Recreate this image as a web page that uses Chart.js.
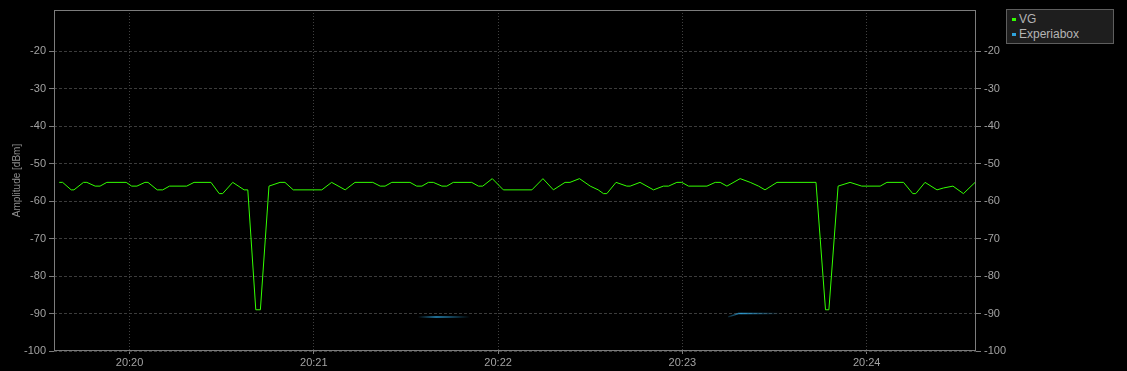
<!DOCTYPE html>
<html>
<head>
<meta charset="utf-8">
<script src="https://cdn.jsdelivr.net/npm/chart.js@4/dist/chart.umd.min.js"></script>
<style>
  html, body { margin: 0; padding: 0; background: #000; }
  #wrap { position: relative; width: 1127px; height: 371px; background: #000; }
  #c { position: absolute; left: 0; top: 0; }
  #legend { position: absolute; left: 1006px; top: 9px; width: 106px; height: 33px;
    background: #1e1e1e; border: 1px solid #5e5e5e;
    font: 12px "Liberation Sans", Arial, sans-serif; color: #b4b4b4; }
  .item { position: absolute; left: 12px; line-height: 14px; }
  .mk { position: absolute; left: -7px; top: 6px; width: 4px; height: 3px; }
</style>
</head>
<body>
<div id="wrap">
  <canvas id="c" width="1127" height="371"></canvas>
  <div id="legend">
    <div class="item" style="top:2px"><span class="mk" style="background:#33ff00"></span>VG</div>
    <div class="item" style="top:17px"><span class="mk" style="background:#2fa3dc"></span>Experiabox</div>
  </div>
</div>
<script>
// ---- data (time in seconds after 20:19:00) ----
const xMin = 35.4;
const xMax = 335.6;
const xTickValues = [60, 120, 180, 240, 300];
const xTickLabels = ['20:20', '20:21', '20:22', '20:23', '20:24'];
const yTickValues = [-20, -30, -40, -50, -60, -70, -80, -90, -100];
const yMin = -100;
const yMax = -9;
const seriesNames = ['VG', 'Experiabox'];

const vgTimes = [37.1, 38.2, 41.0, 41.9, 45.0, 46.1, 48.8, 50.4, 52.6, 58.9,
  60.7, 62.4, 65.0, 66.0, 69.0, 70.8, 73.0, 78.6, 81.0, 86.5,
  89.2, 90.3, 93.6, 97.3, 98.5, 101.1, 102.6, 105.4, 109.0, 110.6,
  113.3, 122.6, 125.8, 130.2, 133.4, 139.2, 141.6, 143.2, 145.4, 151.3,
  153.5, 155.2, 157.3, 158.9, 161.7, 163.3, 165.4, 171.4, 173.6, 175.0,
  178.1, 181.7, 191.0, 194.6, 198.0, 201.8, 203.4, 206.5, 210.0, 212.6,
  214.3, 215.4, 218.4, 221.9, 223.0, 226.2, 230.6, 233.8, 235.5, 238.2,
  239.8, 242.0, 248.0, 250.7, 252.3, 254.5, 258.8, 262.1, 264.8, 266.9,
  270.8, 283.5, 286.6, 287.7, 290.7, 294.6, 298.4, 304.4, 306.6, 312.0,
  315.0, 316.0, 319.0, 322.9, 325.0, 328.1, 331.5, 335.3];
const vgValues = [-55, -55, -57, -57, -55, -55, -56, -56, -55, -55,
  -56, -56, -55, -55, -57, -57, -56, -56, -55, -55,
  -58, -58, -55, -57, -57, -89, -89, -56, -55, -55,
  -57, -57, -55, -57, -55, -55, -56, -56, -55, -55,
  -56, -56, -55, -55, -56, -56, -55, -55, -56, -56,
  -54, -57, -57, -54, -57, -55, -55, -54, -56, -57,
  -58, -58, -55, -56, -56, -55, -57, -56, -56, -55,
  -55, -56, -56, -55, -55, -56, -54, -55, -56, -57,
  -55, -55, -89, -89, -56, -55, -56, -56, -55, -55,
  -58, -58, -55, -57, -56.5, -56, -58, -55];

const expTimes1 = [153.9, 170.9];
const expValues1 = [-90.9, -90.9];
const expTimes2 = [254.9, 257.2, 258.2, 271.9];
const expValues2 = [-90.9, -90.3, -90.0, -90.0];

// ---- build ----
function pts(ts, vs) { return ts.map((t, i) => ({ x: t, y: vs[i] })); }

function fadeColor(t0, t1, stops) {
  return function (ctx) {
    const chart = ctx.chart;
    if (!chart.chartArea) return 'rgba(47,163,220,0.6)';
    const xs = chart.scales.x;
    const g = chart.ctx.createLinearGradient(xs.getPixelForValue(t0), 0, xs.getPixelForValue(t1), 0);
    stops.forEach(s => g.addColorStop(s[0], s[1]));
    return g;
  };
}

const framePlugin = {
  id: 'frame',
  afterDraw(chart) {
    const { ctx, chartArea: a } = chart;
    ctx.save();
    ctx.strokeStyle = '#7c7c7c';
    ctx.lineWidth = 1;
    ctx.strokeRect(Math.round(a.left) + 0.5, Math.round(a.top) + 0.5,
      Math.round(a.right - a.left) - 1, Math.round(a.bottom - a.top) - 1);
    ctx.restore();
  }
};

const tickFont = { family: '"Liberation Sans", Arial, sans-serif', size: 11 };
const tickColor = '#a2a2a2';

function yAxis(position, width, withGrid) {
  return {
    type: 'linear', position, min: yMin, max: yMax,
    afterBuildTicks: s => { s.ticks = yTickValues.map(v => ({ value: v })); },
    afterFit: s => { s.width = width; },
    border: { display: false, dash: [3, 2] },
    grid: {
      drawOnChartArea: withGrid, color: '#3c3c3c',
      tickColor: '#7c7c7c', tickLength: 5, tickBorderDash: [], lineWidth: 1
    },
    ticks: { color: tickColor, font: tickFont, padding: 3 },
    title: withGrid ? {
      display: true, text: 'Amplitude [dBm]', color: '#8e8e8e',
      font: { family: '"Liberation Sans", Arial, sans-serif', size: 10 },
      padding: { top: 11, bottom: 0 }
    } : { display: false }
  };
}

new Chart(document.getElementById('c'), {
  type: 'line',
  data: {
    datasets: [
      { label: seriesNames[0], data: pts(vgTimes, vgValues), borderColor: '#33ff00',
        borderWidth: 1, pointRadius: 0, tension: 0, yAxisID: 'y' },
      { label: seriesNames[1], data: pts(expTimes1, expValues1),
        borderColor: fadeColor(expTimes1[0], expTimes1[1],
          [[0, 'rgba(47,163,220,0)'], [0.35, 'rgba(47,163,220,0.9)'], [0.6, 'rgba(47,163,220,0.6)'], [1, 'rgba(47,163,220,0)']]),
        borderWidth: 1.5, pointRadius: 0, tension: 0, yAxisID: 'y' },
      { label: seriesNames[1] + ' ', data: pts(expTimes2, expValues2),
        borderColor: fadeColor(expTimes2[0], expTimes2[3],
          [[0, 'rgba(47,163,220,0.2)'], [0.25, 'rgba(47,163,220,0.9)'], [0.5, 'rgba(47,163,220,0.6)'], [1, 'rgba(47,163,220,0)']]),
        borderWidth: 1.5, pointRadius: 0, tension: 0, yAxisID: 'y' }
    ]
  },
  options: {
    responsive: false, animation: false, devicePixelRatio: 1,
    layout: { padding: { top: 10, left: 0, right: 0, bottom: 0 } },
    plugins: { legend: { display: false }, tooltip: { enabled: false } },
    scales: {
      x: {
        type: 'linear', min: xMin, max: xMax,
        afterBuildTicks: s => { s.ticks = xTickValues.map(v => ({ value: v })); },
        afterFit: s => { s.height = 20; },
        border: { display: false, dash: [1, 2] },
        grid: { color: '#404040', tickColor: '#7c7c7c', tickLength: 3, tickBorderDash: [] },
        ticks: {
          color: tickColor, font: tickFont, padding: 2, maxRotation: 0,
          callback: (v) => { const i = xTickValues.indexOf(v); return i >= 0 ? xTickLabels[i] : ''; }
        }
      },
      y: yAxis('left', 54, true),
      y2: yAxis('right', 151, false)
    }
  },
  plugins: [framePlugin]
});
</script>
</body>
</html>
